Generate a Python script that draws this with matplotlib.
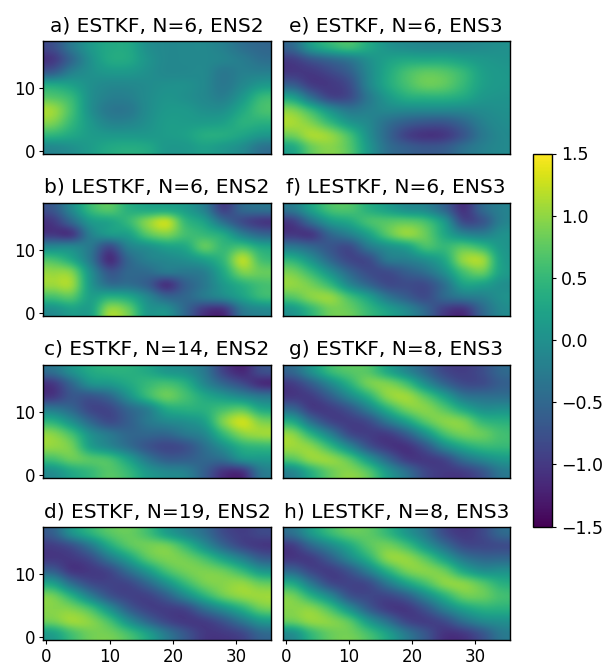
import numpy as np
import matplotlib
matplotlib.use("Agg")
import matplotlib.pyplot as plt

# Field values at a coarse sampling:
# rows run from top (y=16.5) to bottom (y=0.5), columns at x=1,4,...,34
panel_a = [
 [-0.8,-0.3,0.1,0.3,0.3,0.0,-0.1,-0.1,-0.1,-0.2,-0.4,-0.5],
 [-1.0,-0.5,0.0,0.3,0.3,0.05,-0.1,-0.1,-0.1,-0.15,-0.25,-0.4],
 [-0.6,-0.2,0.0,0.1,0.1,0.0,-0.1,-0.1,-0.1,-0.3,-0.2,-0.2],
 [0.3,0.2,0.0,-0.1,-0.1,-0.05,0.0,0.0,-0.1,-0.3,-0.1,0.1],
 [0.7,0.5,0.0,-0.2,-0.2,-0.05,0.05,0.0,-0.1,-0.2,0.1,0.5],
 [1.05,0.6,0.0,-0.3,-0.3,-0.05,0.1,0.1,0.0,0.0,0.3,0.6],
 [0.9,0.5,0.1,-0.15,-0.15,0.0,0.15,0.15,0.15,0.2,0.4,0.4],
 [0.45,0.3,0.15,0.1,0.1,0.1,0.15,0.2,0.35,0.35,0.25,0.1],
 [-0.1,0.0,0.15,0.3,0.35,0.3,0.1,0.1,0.2,0.1,-0.05,-0.35],
]
panel_b = [
 [-0.7,-0.1,0.5,0.7,0.4,0.3,0.3,0.15,-0.2,-0.9,-0.5,-0.4],
 [-1.0,-0.5,0.1,0.25,0.5,0.95,1.2,0.5,0.2,-0.4,-0.8,-1.0],
 [-1.0,-1.0,-0.2,0.1,0.2,0.7,0.9,0.6,0.5,0.3,-0.2,-0.5],
 [-0.1,-0.1,-0.3,-0.8,-0.2,0.0,0.2,0.3,0.75,0.5,0.6,0.3],
 [0.6,0.3,-0.3,-1.1,-0.5,-0.2,-0.1,0.0,0.2,0.5,1.15,0.6],
 [1.0,0.9,0.0,-0.7,-0.5,-0.45,-0.3,-0.3,-0.2,0.3,0.9,0.8],
 [1.05,1.05,0.1,-0.4,-0.4,-0.6,-1.05,-0.6,-0.3,0.1,0.4,0.6],
 [0.6,0.7,0.2,0.4,0.3,-0.1,-0.5,-0.5,-0.3,-0.1,0.2,0.5],
 [0.0,0.2,0.2,1.0,0.8,0.1,0.0,-0.5,-1.0,-1.05,-0.3,-0.1],
]
panel_c = [
 [-0.4,0.0,0.3,0.4,0.4,0.3,0.1,0.0,-0.3,-0.9,-1.15,-0.8],
 [-1.0,-0.5,0.0,0.1,0.3,0.5,0.6,0.4,-0.1,-0.5,-0.8,-1.1],
 [-1.0,-0.7,-0.7,-0.5,0.0,0.5,0.8,0.6,0.3,0.1,-0.1,-0.3],
 [-0.3,-0.5,-0.85,-0.85,-0.5,-0.2,0.3,0.4,0.4,0.6,0.7,0.3],
 [0.4,0.0,-0.5,-0.8,-0.6,-0.3,-0.1,0.0,0.2,0.9,1.25,0.9],
 [0.95,0.6,0.0,-0.3,-0.5,-0.5,-0.5,-0.3,-0.1,0.5,0.95,1.05],
 [1.0,0.85,0.2,-0.1,-0.4,-0.7,-0.85,-0.75,-0.4,0.0,0.4,0.5],
 [0.6,0.8,0.7,0.6,0.2,-0.3,-0.6,-0.6,-0.5,-0.4,0.0,0.1],
 [0.0,0.3,0.5,0.7,0.5,0.1,-0.1,-0.2,-0.6,-1.05,-1.05,-0.3],
]
panel_d = [
 [-0.6,0.0,0.4,0.7,0.8,0.6,0.2,-0.1,-0.4,-0.8,-0.95,-0.85],
 [-0.95,-0.75,-0.3,0.3,0.7,0.85,0.85,0.5,0.0,-0.5,-0.85,-1.0],
 [-1.0,-1.0,-0.8,-0.3,0.2,0.7,0.9,0.85,0.6,0.2,-0.2,-0.6],
 [-0.6,-1.0,-1.0,-0.85,-0.4,0.1,0.6,0.85,0.9,0.8,0.5,0.1],
 [0.2,-0.4,-0.8,-0.9,-0.85,-0.5,0.0,0.5,0.85,0.95,1.0,0.8],
 [0.85,0.4,-0.2,-0.7,-0.9,-0.9,-0.6,-0.1,0.4,0.8,1.0,1.05],
 [0.95,0.9,0.6,0.0,-0.6,-0.9,-0.95,-0.85,-0.4,0.0,0.4,0.8],
 [0.85,1.05,0.95,0.6,0.0,-0.5,-0.85,-1.0,-0.95,-0.7,-0.3,0.1],
 [0.2,0.6,0.85,0.85,0.6,0.2,-0.3,-0.7,-1.0,-1.0,-0.85,-0.5],
]
panel_e = [
 [-0.5,0.1,0.4,0.55,0.3,0.05,-0.05,-0.1,-0.1,-0.1,-0.05,0.0],
 [-0.95,-0.7,-0.5,-0.3,0.0,0.2,0.3,0.3,0.3,0.2,0.1,0.05],
 [-1.0,-1.0,-0.85,-0.6,-0.1,0.3,0.6,0.75,0.7,0.5,0.2,0.1],
 [-0.6,-0.95,-1.0,-0.8,-0.15,0.3,0.6,0.8,0.75,0.5,0.2,0.1],
 [0.2,-0.4,-0.85,-0.8,-0.3,0.1,0.35,0.4,0.4,0.3,0.1,0.05],
 [0.9,0.5,0.0,-0.3,-0.2,-0.1,-0.1,-0.1,-0.1,-0.1,-0.05,0.0],
 [1.1,0.9,0.5,0.1,-0.1,-0.4,-0.6,-0.7,-0.7,-0.5,-0.2,-0.05],
 [0.85,1.1,1.0,0.6,0.0,-0.5,-0.9,-1.05,-1.0,-0.7,-0.3,-0.1],
 [0.3,0.8,0.95,0.7,0.1,-0.4,-0.6,-0.7,-0.65,-0.4,-0.2,-0.1],
]
panel_f = [
 [-0.3,0.2,0.6,0.65,0.4,0.2,0.0,-0.1,-0.5,-1.05,-0.5,-0.2],
 [-0.95,-0.4,0.1,0.3,0.6,0.7,0.75,0.6,0.1,-0.8,-0.7,-0.2],
 [-1.0,-1.0,-0.5,-0.2,0.2,0.7,1.0,0.8,0.3,-0.1,-0.2,0.0],
 [-0.3,-0.5,-0.7,-0.8,-0.3,0.0,0.2,0.6,0.5,0.7,0.5,0.1],
 [0.4,0.0,-0.5,-0.85,-0.8,-0.3,-0.2,0.0,0.3,1.0,1.05,0.2],
 [0.85,0.5,0.0,-0.5,-0.8,-0.8,-0.6,-0.4,0.0,0.6,0.8,0.2],
 [1.0,0.85,0.5,-0.1,-0.5,-0.8,-0.8,-0.8,-0.4,0.2,0.2,0.0],
 [0.7,0.95,1.0,0.6,0.2,-0.3,-0.6,-0.8,-0.5,-0.3,-0.2,0.0],
 [0.1,0.5,0.85,0.8,0.5,0.2,-0.1,-0.5,-0.95,-1.05,-0.5,-0.1],
]
panel_g = [
 [-0.5,0.0,0.5,0.7,0.7,0.3,-0.1,-0.5,-0.85,-0.95,-0.8,-0.5],
 [-0.95,-0.6,-0.1,0.4,0.85,0.9,0.6,0.0,-0.5,-0.8,-0.8,-0.6],
 [-1.0,-0.95,-0.6,-0.1,0.4,0.95,1.05,0.7,0.2,-0.3,-0.4,-0.4],
 [-0.5,-0.95,-0.95,-0.7,-0.2,0.4,0.85,0.95,0.7,0.3,0.0,0.0],
 [0.3,-0.4,-0.85,-0.95,-0.8,-0.3,0.2,0.7,0.95,0.9,0.5,0.4],
 [0.95,0.4,-0.2,-0.8,-0.95,-0.95,-0.6,0.0,0.6,0.85,0.8,0.6],
 [1.05,0.95,0.5,-0.1,-0.7,-1.0,-1.05,-0.7,-0.1,0.3,0.5,0.5],
 [0.7,1.0,1.0,0.7,0.1,-0.5,-0.95,-1.0,-0.85,-0.4,-0.1,0.1],
 [-0.1,0.4,0.8,0.95,0.7,0.1,-0.4,-0.85,-1.0,-0.95,-0.7,-0.3],
]
panel_h = [
 [-0.4,0.1,0.5,0.75,0.75,0.5,0.1,-0.3,-0.8,-1.0,-0.85,-0.5],
 [-0.95,-0.5,-0.1,0.3,0.7,0.85,0.6,0.1,-0.4,-0.8,-0.85,-0.8],
 [-1.0,-0.95,-0.6,-0.1,0.4,0.95,1.0,0.7,0.2,-0.3,-0.5,-0.5],
 [-0.5,-0.85,-0.95,-0.7,-0.2,0.4,0.85,0.95,0.8,0.3,0.0,0.0],
 [0.3,-0.3,-0.8,-0.9,-0.8,-0.3,0.2,0.6,0.95,0.95,0.7,0.4],
 [0.85,0.4,-0.1,-0.7,-0.85,-0.85,-0.6,-0.1,0.4,0.8,0.8,0.6],
 [0.95,0.95,0.6,0.0,-0.6,-0.95,-1.0,-0.7,-0.2,0.2,0.4,0.4],
 [0.8,1.0,0.95,0.7,0.1,-0.4,-0.85,-0.95,-0.8,-0.4,-0.1,0.0],
 [0.0,0.5,0.8,0.85,0.6,0.2,-0.3,-0.7,-1.05,-1.0,-0.7,-0.3],
]
panels = [panel_a, panel_b, panel_c, panel_d, panel_e, panel_f, panel_g, panel_h]
titles = ["a) ESTKF, N=6, ENS2", "b) LESTKF, N=6, ENS2", "c) ESTKF, N=14, ENS2", "d) ESTKF, N=19, ENS2",
          "e) ESTKF, N=6, ENS3", "f) LESTKF, N=6, ENS3", "g) ESTKF, N=8, ENS3", "h) LESTKF, N=8, ENS3"]
x_ticks = [0, 10, 20, 30]
y_ticks = [0, 10]
cbar_ticks = [-1.5, -1.0, -0.5, 0.0, 0.5, 1.0, 1.5]

W, H = 606, 666
fig = plt.figure(figsize=(W / 100, H / 100), dpi=100)
lefts = [43.3, 282.5]
tops = [41, 202.7, 364.7, 527]
aw, ah = 227.5, 113

im = None
for i, (data, title) in enumerate(zip(panels, titles)):
    col, row = i // 4, i % 4
    ax = fig.add_axes([lefts[col] / W, 1 - (tops[row] + ah) / H, aw / W, ah / H])
    im = ax.imshow(np.array(data), origin="upper", extent=(-0.5, 35.5, -0.5, 17.5),
                   cmap="viridis", vmin=-1.5, vmax=1.5, interpolation="catrom", aspect="auto")
    ax.set_title(title, fontsize=14.5, pad=7)
    ax.set_xticks(x_ticks if row == 3 else [])
    ax.set_yticks(y_ticks if col == 0 else [])
    ax.tick_params(labelsize=12, pad=2.5, length=3.2)
    for s in ax.spines.values():
        s.set_linewidth(1.0)

cax = fig.add_axes([533 / W, 1 - 526.5 / H, 18.5 / W, 373 / H])
cb = fig.colorbar(im, cax=cax, ticks=cbar_ticks)
cb.ax.tick_params(labelsize=12.5, length=3.2)
cb.outline.set_linewidth(1.0)
fig.savefig("out.png", dpi=100)
